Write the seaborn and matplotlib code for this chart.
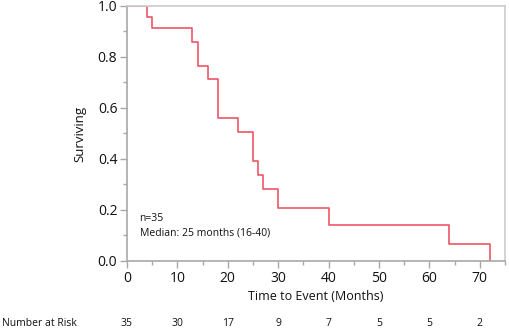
import pandas as pd
import matplotlib
matplotlib.use('Agg')
import matplotlib.pyplot as plt
import seaborn as sns
from matplotlib.ticker import MultipleLocator

# Kaplan-Meier step values
times = [0, 4, 5, 13, 14, 16, 18, 22, 25, 26, 27, 30, 40, 64, 72]
surviving = [1.0, 0.957, 0.914, 0.86, 0.765, 0.715, 0.561, 0.506, 0.392,
             0.337, 0.281, 0.209, 0.14, 0.068, 0.0]

risk_times = [0, 10, 20, 30, 40, 50, 60, 70]
at_risk = [35, 30, 17, 9, 7, 5, 5, 2]

df = pd.DataFrame({'time': times, 'surv': surviving})

sns.set_style('white')
plt.rcParams['font.family'] = ['Open Sans', 'DejaVu Sans']
plt.rcParams['text.color'] = '#111111'
plt.rcParams['axes.labelcolor'] = '#111111'
plt.rcParams['xtick.labelcolor'] = '#111111'
plt.rcParams['ytick.labelcolor'] = '#111111'

fig = plt.figure(figsize=(5.1, 3.31), dpi=100)
ax = fig.add_axes([0.249, 0.2115, 0.741, 0.7705])

sns.lineplot(data=df, x='time', y='surv', drawstyle='steps-post',
             color='#EE5566', linewidth=1.2, ax=ax)

ax.set_xlim(0, 75)
ax.set_ylim(0, 1.0)
ax.xaxis.set_major_locator(MultipleLocator(10))
ax.xaxis.set_minor_locator(MultipleLocator(5))
ax.yaxis.set_major_locator(MultipleLocator(0.2))
ax.yaxis.set_minor_locator(MultipleLocator(0.1))
ax.yaxis.set_major_formatter(matplotlib.ticker.FormatStrFormatter('%.1f'))

for side in ['left', 'bottom']:
    ax.spines[side].set_color('#A8A8A8')
    ax.spines[side].set_linewidth(1.2)
for side in ['top', 'right']:
    ax.spines[side].set_color('#CCCCCC')
    ax.spines[side].set_linewidth(1.2)

ax.tick_params(which='major', direction='out', length=5, width=1,
               color='#A8A8A8', labelsize=10, pad=2, bottom=True, left=True)
ax.tick_params(which='minor', direction='out', length=3, width=1,
               color='#A8A8A8', bottom=True, left=True)

ax.set_xlabel('Time to Event (Months)', fontsize=9, labelpad=3)
ax.set_ylabel('Surviving', fontsize=9.5, labelpad=8)

ax.text(2.5, 0.155, 'n=35', fontsize=7.5)
ax.text(2.5, 0.1, 'Median: 25 months (16-40)', fontsize=7.5)

# Number at risk table under the x axis
trans = matplotlib.transforms.blended_transform_factory(ax.transData, fig.transFigure)
y_risk = 1 - 324 / 331
fig.text(0.004, y_risk, 'Number at Risk', fontsize=7.5, va='center')
for t, n in zip(risk_times, at_risk):
    ax.text(t, y_risk, str(n), fontsize=7.5, ha='center', va='center',
            transform=trans, clip_on=False)

fig.savefig('out.png', dpi=100)
